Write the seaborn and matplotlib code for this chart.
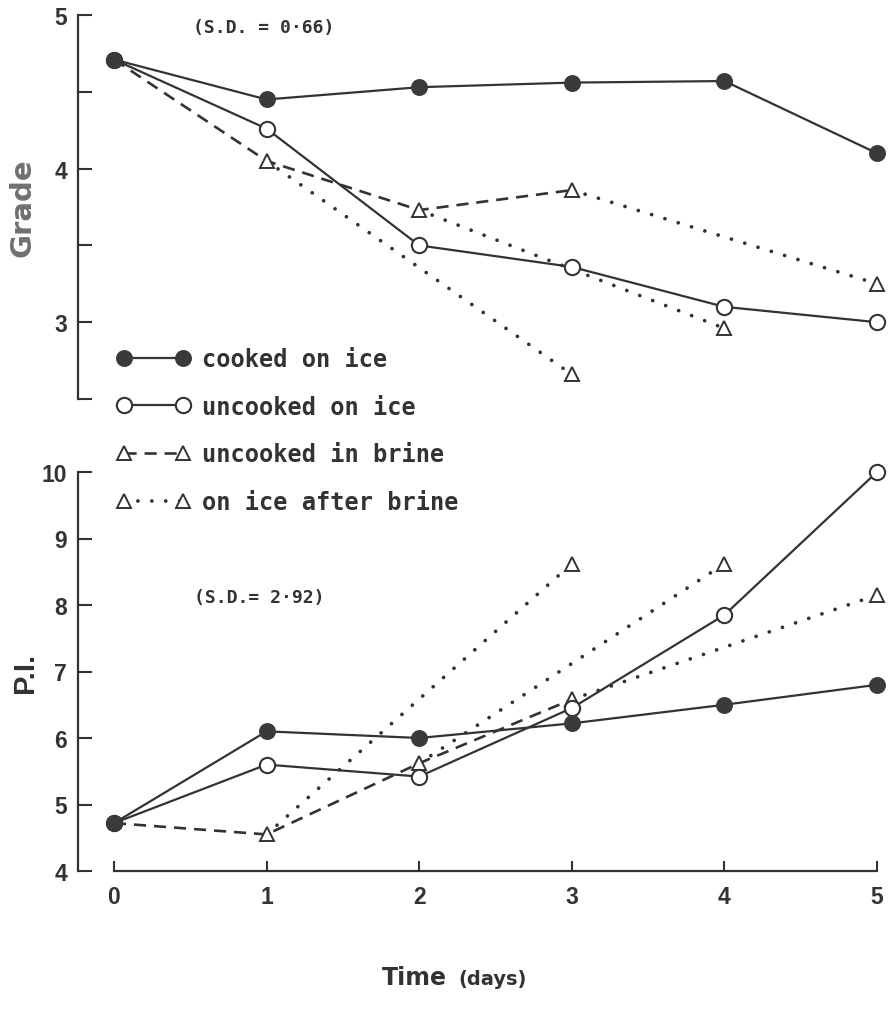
import numpy as np
import pandas as pd
import matplotlib
matplotlib.use("Agg")
import matplotlib.pyplot as plt
from matplotlib.lines import Line2D
import seaborn as sns

# values
days = [0, 1, 2, 3, 4, 5]
brine_days = [0, 1, 2, 3]
after_start = [1, 2, 3]          # day taken out of brine
after_end = [3, 4, 5]            # last day on ice

grade_cooked = [4.71, 4.45, 4.53, 4.56, 4.57, 4.10]
grade_uncooked = [4.71, 4.26, 3.50, 3.36, 3.10, 3.00]
grade_brine = [4.71, 4.05, 3.73, 3.86]
grade_after_end = [2.66, 2.96, 3.25]

pi_cooked = [4.72, 6.10, 6.00, 6.22, 6.50, 6.80]
pi_uncooked = [4.72, 5.60, 5.42, 6.45, 7.85, 10.0]
pi_brine = [4.72, 4.55, 5.62, 6.58]
pi_after_end = [8.62, 8.62, 8.15]

legend_labels = ["cooked on ice", "uncooked on ice",
                 "uncooked in brine", "on ice after brine"]

INK = "#333333"
FILL = "#3a3a3a"

sns.set_theme(style="ticks")
plt.rcParams["font.family"] = ["Liberation Sans", "DejaVu Sans"]

W, H = 889, 1020
fig = plt.figure(figsize=(W / 100, H / 100), dpi=100)


def frac_box(left, top, right, bottom):
    return [left / W, 1 - bottom / H, (right - left) / W, (bottom - top) / H]


ax_g = fig.add_axes(frac_box(78, 16, 889, 400))
ax_p = fig.add_axes(frac_box(78, 473, 889, 872))

x_lo = (78 - 114) / 152.6
x_hi = 5 + (889 - 877) / 152.6

solid = dict(color=INK, linewidth=1.6, linestyle="-")
dashed = dict(color=INK, linewidth=1.9, linestyle=(0, (4.6, 3.0)))
dotted = dict(color=INK, linewidth=2.7, linestyle=(0, (0.01, 3.7)),
              dash_capstyle="round")
m_filled = dict(marker="o", markersize=11, markerfacecolor=FILL,
                markeredgecolor=FILL, markeredgewidth=1.2)
m_open = dict(marker="o", markersize=11, markerfacecolor="white",
              markeredgecolor=INK, markeredgewidth=1.5)
m_tri = dict(marker="^", markersize=10, markerfacecolor="white",
             markeredgecolor=INK, markeredgewidth=1.4)


def draw_panel(ax, cooked, uncooked, brine, after_vals):
    # brine -> ice segments (dotted)
    for d0, d1, v1 in zip(after_start, after_end, after_vals):
        seg = pd.DataFrame({"day": [d0, d1], "val": [brine[d0], v1]})
        sns.lineplot(data=seg, x="day", y="val", ax=ax, markevery=[1],
                     clip_on=False, zorder=2, **dotted, **m_tri)
    sns.lineplot(x=brine_days, y=brine, ax=ax, markevery=[1, 2, 3],
                 clip_on=False, zorder=3, **dashed, **m_tri)
    sns.lineplot(x=days, y=uncooked, ax=ax, clip_on=False, zorder=4,
                 **solid, **m_open)
    sns.lineplot(x=days, y=cooked, ax=ax, clip_on=False, zorder=5,
                 **solid, **m_filled)


draw_panel(ax_g, grade_cooked, grade_uncooked, grade_brine, grade_after_end)
draw_panel(ax_p, pi_cooked, pi_uncooked, pi_brine, pi_after_end)

tick_font = dict(family="Liberation Sans", weight="bold", size=16.5, color=INK)

for ax in (ax_g, ax_p):
    ax.set_xlim(x_lo, x_hi)
    ax.set_facecolor("white")
    for s in ("top", "right"):
        ax.spines[s].set_visible(False)
    ax.spines["left"].set_color(INK)
    ax.spines["left"].set_linewidth(1.6)
    ax.tick_params(axis="y", which="both", direction="in", length=10,
                   width=1.5, color=INK, pad=8)
    ax.set_xlabel("")

# Grade panel
ax_g.set_ylim(2.5, 5.0)
ax_g.spines["bottom"].set_visible(False)
ax_g.set_xticks([])
ax_g.set_yticks([3, 4, 5])
ax_g.set_yticks([2.5, 3.5, 4.5], minor=True)
ax_g.set_yticklabels(["3", "4", "5"], fontdict=tick_font)
ax_g.set_ylabel("Grade", family="DejaVu Sans", weight="bold", size=21,
                color="#707070")
ax_g.yaxis.set_label_coords((37 - 78) / 811, 0.5)
ax_g.text(0.98, 4.92, "(S.D. = 0·66)", ha="center", va="center",
          family="DejaVu Sans Mono", weight="bold", size=13, color=INK)

# P.I. panel
ax_p.set_ylim(4, 10)
ax_p.spines["bottom"].set_bounds(0, 5)
ax_p.spines["bottom"].set_color(INK)
ax_p.spines["bottom"].set_linewidth(1.6)
ax_p.set_xticks(days)
ax_p.set_xticklabels([str(d) for d in days], fontdict=tick_font)
ax_p.tick_params(axis="x", direction="in", length=7.5, width=1.5,
                 color=INK, pad=10)
ax_p.set_yticks(range(4, 11))
ax_p.set_yticklabels([str(v) for v in range(4, 11)], fontdict=tick_font)
ax_p.set_ylabel("P.I.", family="Liberation Sans", weight="bold", size=21,
                color=INK)
ax_p.yaxis.set_label_coords((39 - 78) / 811, 0.5)
ax_p.text(0.95, 8.12, "(S.D.= 2·92)", ha="center", va="center",
          family="DejaVu Sans Mono", weight="bold", size=13, color=INK)

fig.text(447 / W, 1 - 985 / H, "Time", ha="right", va="baseline",
         family="DejaVu Sans", weight="bold", size=17, color=INK)
fig.text(458 / W, 1 - 985 / H, "(days)", ha="left", va="baseline",
         family="DejaVu Sans", weight="bold", size=14, color=INK)

handles = [
    Line2D([], [], **solid, **m_filled),
    Line2D([], [], **solid, **m_open),
    Line2D([], [], **dashed, **m_tri),
    Line2D([], [], **dotted, **m_tri),
]
fig.legend(handles, legend_labels, loc="upper left",
           bbox_to_anchor=(117 / W, 1 - 348 / H), frameon=False,
           borderpad=0, borderaxespad=0, numpoints=2, handlelength=3.1,
           handletextpad=0.48, labelspacing=1.0,
           prop=dict(family="DejaVu Sans Mono", weight="bold", size=17),
           labelcolor=INK)

fig.savefig("out.png", dpi=100, facecolor="white")
